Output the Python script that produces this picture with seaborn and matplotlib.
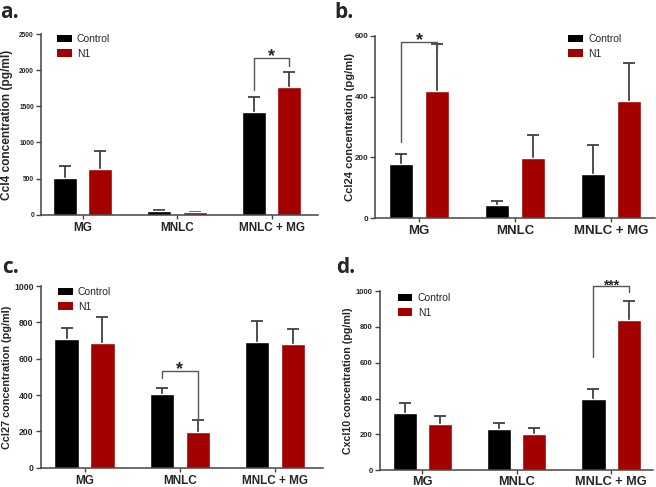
import numpy as np
import pandas as pd

import matplotlib
matplotlib.use('Agg')
import matplotlib.pyplot as plt
from matplotlib.patches import Patch
import seaborn as sns

# Groups and conditions
groups = ['MG', 'MNLC', 'MNLC + MG']
conditions = ['Control', 'N1']

# Ccl4 (pg/ml): mean and SEM
ccl4_control = [505, 51, 1417]
ccl4_control_sem = [171, 18, 208]
ccl4_n1 = [630, 32, 1764]
ccl4_n1_sem = [259, 10, 213]

# Ccl24 (pg/ml)
ccl24_control = [178, 45, 147]
ccl24_control_sem = [32, 12, 95]
ccl24_n1 = [417, 199, 385]
ccl24_n1_sem = [157, 75, 126]

# Ccl27 (pg/ml)
ccl27_control = [706, 405, 690]
ccl27_control_sem = [61, 34, 116]
ccl27_n1 = [686, 196, 679]
ccl27_n1_sem = [145, 65, 84]

# Cxcl10 (pg/ml)
cxcl10_control = [322, 231, 398]
cxcl10_control_sem = [56, 35, 58]
cxcl10_n1 = [260, 203, 837]
cxcl10_n1_sem = [43, 35, 110]

# Significance brackets: group index, label, left end, right end, top
sig_ccl4 = (2, '*', 1722, 2056, 2171)
sig_ccl24 = (0, '*', 252, 561, 578)
sig_ccl27 = (1, '*', 495, 261, 530)
sig_cxcl10 = (2, '***', 631, 993, 1031)

palette = {'Control': 'black', 'N1': '#a30000'}
err_color = '#404040'


def draw_panel(fig, rect, tag, ylabel, control, control_sem, n1, n1_sem, sig,
               ymax, yticks, xlim, sizes, legend_anchor, ylabel_x, star_size, star_dy,
               xpad=2):
    ax = fig.add_axes(rect)
    df = pd.DataFrame({
        'group': groups * 2,
        'condition': [conditions[0]] * 3 + [conditions[1]] * 3,
        'value': control + n1,
    })
    sns.barplot(data=df, x='group', y='value', hue='condition', order=groups,
                hue_order=conditions, palette=palette, width=0.75, gap=0.32,
                saturation=1, errorbar=None, legend=False, ax=ax, zorder=2)

    # Upper-only SEM bars
    sems = [control_sem, n1_sem]
    centers = []
    for cont, sem in zip(ax.containers, sems):
        xs = [p.get_x() + p.get_width() / 2 for p in cont.patches]
        ys = [p.get_height() for p in cont.patches]
        centers.append(xs)
        eb = ax.errorbar(xs, ys, yerr=[np.zeros(len(sem)), sem], fmt='none',
                         ecolor=err_color, elinewidth=1.3, capsize=4.2,
                         capthick=1.3, zorder=1)
        eb[1][0].set_visible(False)  # hide the lower cap

    # Significance bracket
    gi, label, y_left, y_right, y_top = sig
    x0, x1 = centers[0][gi], centers[1][gi]
    ax.plot([x0, x0, x1, x1], [y_left, y_top, y_top, y_right], color='#555555',
            lw=1.0, clip_on=False, zorder=3)
    ax.annotate(label, xy=((x0 + x1) / 2, y_top), xytext=(0, star_dy),
                textcoords='offset points', ha='center', va='baseline',
                fontsize=star_size, fontweight='bold', annotation_clip=False)

    ax.set_xlim(*xlim)
    ax.set_ylim(0, ymax)
    ax.set_yticks(yticks)
    ax.set_xlabel('')
    ax.set_ylabel(ylabel, fontsize=sizes[2], fontweight='bold')
    ax.yaxis.set_label_coords(ylabel_x, 0.5)
    ax.tick_params(axis='y', labelsize=sizes[0], length=3.5, width=1.0,
                   color='#444444', pad=1.5)
    ax.tick_params(axis='x', labelsize=sizes[1], length=3, width=1.0,
                   color='#444444', pad=xpad)
    for lab in ax.get_yticklabels() + ax.get_xticklabels():
        lab.set_fontweight('bold')
    sns.despine(ax=ax)
    for side in ['left', 'bottom']:
        ax.spines[side].set_color('#444444')
        ax.spines[side].set_linewidth(1.1)

    handles = [Patch(facecolor=palette[c], edgecolor='none') for c in conditions]
    ax.legend(handles, conditions, loc='upper left', bbox_to_anchor=legend_anchor,
              frameon=False, fontsize=7.5, handlelength=1.4, handleheight=0.7,
              handletextpad=0.5, labelspacing=0.45, borderaxespad=0, borderpad=0)

    fig.text(rect[0] + tag[1], tag[2], tag[0], fontsize=15, fontweight='bold',
             family=['Open Sans', 'DejaVu Sans'], va='baseline')
    return ax


def main():
    sns.set_style('ticks')
    plt.rcParams['font.family'] = ['Liberation Sans', 'DejaVu Sans']

    fig = plt.figure(figsize=(6.56, 4.87), dpi=100)

    draw_panel(fig, [0.0625, 0.559, 0.422, 0.371], ('a.', -0.062, 0.963),
               'Ccl4 concentration (pg/ml)', ccl4_control, ccl4_control_sem,
               ccl4_n1, ccl4_n1_sem, sig_ccl4, 2500, [0, 500, 1000, 1500, 2000, 2500],
               (-0.44, 2.49), (4.8, 8.5, 8.6), (0.058, 1.0), -0.1, 13, -2)

    draw_panel(fig, [0.5716, 0.5517, 0.427, 0.375], ('b.', -0.062, 0.963),
               'Ccl24 concentration (pg/ml)', ccl24_control, ccl24_control_sem,
               ccl24_n1, ccl24_n1_sem, sig_ccl24, 600, [0, 200, 400, 600],
               (-0.46, 2.46), (5.8, 9.5, 8.1), (0.69, 1.01), -0.073, 13, -2)

    draw_panel(fig, [0.062, 0.0397, 0.43, 0.373], ('c.', -0.058, 0.4394),
               'Ccl27 concentration (pg/ml)', ccl27_control, ccl27_control_sem,
               ccl27_n1, ccl27_n1_sem, sig_ccl27, 1000, [0, 200, 400, 600, 800, 1000],
               (-0.46, 2.5), (6.2, 8.5, 7.8), (0.062, 0.995), -0.1, 13, -2)

    draw_panel(fig, [0.579, 0.0343, 0.416, 0.368], ('d.', -0.067, 0.4394),
               'Cxcl10 concentration (pg/ml)', cxcl10_control, cxcl10_control_sem,
               cxcl10_n1, cxcl10_n1_sem, sig_cxcl10, 1000, [0, 200, 400, 600, 800, 1000],
               (-0.45, 2.44), (5.5, 9.2, 7.7), (0.066, 0.99), -0.097, 10, -3, xpad=1)

    fig.savefig('out.png', dpi=100)
    plt.close(fig)


if __name__ == '__main__':
    main()
